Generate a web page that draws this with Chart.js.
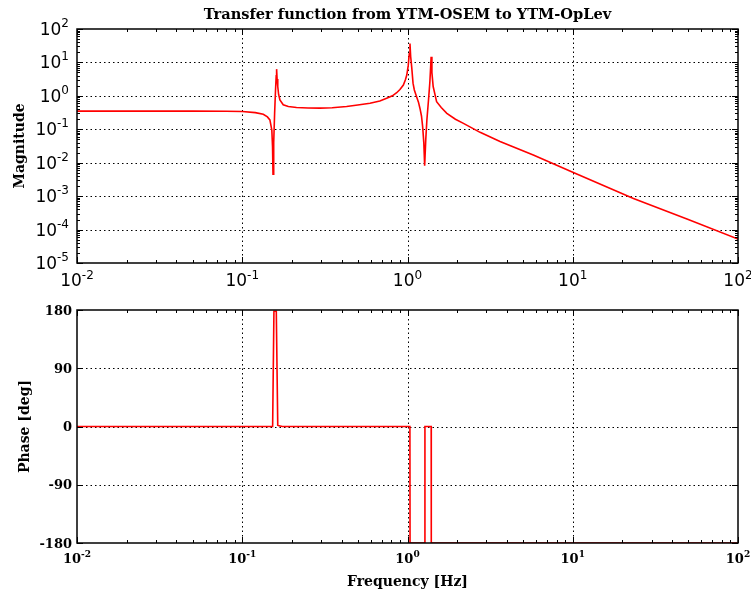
<!DOCTYPE html>
<html><head><meta charset="utf-8">
<script src="https://cdn.jsdelivr.net/npm/chart.js@4"></script>
<style>
html,body{margin:0;padding:0;background:#fff;}
#wrap{position:relative;width:751px;height:595px;overflow:hidden;background:#fff}
canvas{position:absolute;left:0}
</style></head><body>
<div id="wrap">
<canvas id="mag" width="751" height="290" style="top:0;width:751px;height:290px"></canvas>
<canvas id="ph" width="751" height="305" style="top:290px;width:751px;height:305px"></canvas>
</div>
<script>
// ---- texts ----
const titleText = "Transfer function from YTM-OSEM to YTM-OpLev";
const magAxisLabel = "Magnitude";
const phaseAxisLabel = "Phase [deg]";
const freqAxisLabel = "Frequency [Hz]";

// ---- magnitude series ----
const magFreq = [0.01,0.02,0.05,0.08,0.1,0.12,0.134,0.142,0.147,0.151,0.1525,0.1535,0.155,0.157,0.159,0.1605,0.1614,0.1625,0.164,0.166,0.169,0.177,0.19,0.213,0.25,0.295,0.35,0.428,0.5,0.593,0.68,0.748,0.81,0.86,0.9,0.944,0.97,0.99,1.01,1.025,1.035,1.045,1.06,1.08,1.1,1.135,1.165,1.19,1.215,1.235,1.255,1.27,1.29,1.31,1.34,1.365,1.38,1.39,1.405,1.43,1.5,1.6,1.73,1.95,2.18,2.75,3.63,5.77,10,23.3,50,100];
const magValues = [0.35,0.35,0.349,0.347,0.34,0.315,0.28,0.235,0.19,0.095,0.03,0.0045,0.04,0.3,1.5,4,6.3,3.2,1.9,1.1,0.75,0.54,0.48,0.45,0.435,0.43,0.44,0.48,0.53,0.60,0.70,0.85,1.0,1.24,1.55,2.1,3.0,4.2,8,18,37,15,7.4,2.4,1.5,0.94,0.65,0.42,0.25,0.12,0.04,0.0081,0.05,0.19,0.75,2.5,7,14.8,5,1.9,0.67,0.45,0.30,0.2,0.15,0.081,0.043,0.017,0.0052,0.00085,0.0002,0.000052];

// ---- phase series ----
const phaseFreq = [0.01,0.1527,0.1555,0.1607,0.164,0.167,0.175,1.034,1.036,1.273,1.275,1.391,1.393,100];
const phaseValues = [0,0,178,178,2,1,0,0,-180,-180,0,0,-180,-180];

// ---- ticks ----
const freqExponents = [-2,-1,0,1,2];
const magExponents = [2,1,0,-1,-2,-3,-4,-5];
const phaseTicks = [180,90,0,-90,-180];
const minorMultipliers = [2,3,4,5,6,7,8,9];

const RED = '#ff0000';

function minorList(exps){
  const out=[];
  for(let i=0;i<exps.length-1;i++){
    const e=Math.min(exps[i],exps[i+1]);
    minorMultipliers.forEach(m=>out.push(m*Math.pow(10,e)));
  }
  return out;
}

function drawPow(ctx, base, exp, x, y, align, baseFont, expFont, raise){
  ctx.font = baseFont; const wb = ctx.measureText(base).width;
  ctx.font = expFont; const we = ctx.measureText(exp).width;
  let left;
  if(align==='right') left = x - wb - we;
  else left = x - (wb+we)/2;
  ctx.textAlign='left'; ctx.textBaseline='alphabetic';
  ctx.font = baseFont; ctx.fillText(base, left, y);
  ctx.font = expFont; ctx.fillText(exp, left+wb, y-raise);
}

function makeDecor(cfg){
  return {
    id:'decor',
    beforeDatasetsDraw(chart){
      const {ctx, chartArea:a} = chart; const x=chart.scales.x, y=chart.scales.y;
      ctx.save();
      ctx.strokeStyle='#000'; ctx.lineWidth=1; ctx.setLineDash([1.5,3]);
      ctx.beginPath();
      cfg.xMajor.forEach(v=>{const px=Math.round(x.getPixelForValue(v))+0.5; if(px>a.left+2&&px<a.right-2){ctx.moveTo(px,a.top);ctx.lineTo(px,a.bottom);}});
      cfg.yMajor.forEach(v=>{const py=Math.round(y.getPixelForValue(v))+0.5; if(py>a.top+2&&py<a.bottom-2){ctx.moveTo(a.left,py);ctx.lineTo(a.right,py);}});
      ctx.stroke(); ctx.restore();
    },
    afterDatasetsDraw(chart){
      const {ctx, chartArea:a} = chart; const x=chart.scales.x, y=chart.scales.y;
      ctx.save(); ctx.strokeStyle='#000'; ctx.lineWidth=1; ctx.setLineDash([]);
      ctx.beginPath();
      const xt=(v,len)=>{const px=Math.round(x.getPixelForValue(v))+0.5; ctx.moveTo(px,a.bottom);ctx.lineTo(px,a.bottom-len);ctx.moveTo(px,a.top);ctx.lineTo(px,a.top+len);};
      const yt=(v,len)=>{const py=Math.round(y.getPixelForValue(v))+0.5; ctx.moveTo(a.left,py);ctx.lineTo(a.left+len,py);ctx.moveTo(a.right,py);ctx.lineTo(a.right-len,py);};
      cfg.xMajor.forEach(v=>xt(v,6)); cfg.xMinor.forEach(v=>xt(v,3));
      cfg.yMajor.forEach(v=>yt(v,6)); cfg.yMinor.forEach(v=>yt(v,3));
      ctx.stroke();
      ctx.lineWidth=1.5;
      ctx.strokeRect(a.left,a.top,a.right-a.left,a.bottom-a.top);
      ctx.restore();
    },
    afterDraw(chart){
      const {ctx, chartArea:a} = chart; const x=chart.scales.x, y=chart.scales.y;
      ctx.save(); ctx.fillStyle='#000';
      cfg.drawLabels(ctx,a,x,y);
      ctx.restore();
    }
  };
}

const commonScales = (ymin,ymax,ytype)=>({
  x:{type:'logarithmic',min:0.01,max:100,display:true,ticks:{display:false},grid:{display:false},border:{display:false},afterFit:s=>{s.height=0;}},
  y:{type:ytype,min:ymin,max:ymax,display:true,ticks:{display:false},grid:{display:false},border:{display:false},afterFit:s=>{s.width=0;}}
});

const freqMajor = freqExponents.map(e=>Math.pow(10,e));
const freqMinor = minorList(freqExponents);
const magMajor = magExponents.map(e=>Math.pow(10,e));
const magMinor = minorList(magExponents);

const SANS='"DejaVu Sans", sans-serif';
const SERIF='"DejaVu Serif", serif';

new Chart(document.getElementById('mag'),{
  type:'line',
  data:{datasets:[{data:magFreq.map((f,i)=>({x:f,y:magValues[i]})),borderColor:RED,borderWidth:1.6,pointRadius:0,tension:0,fill:false}]},
  options:{
    responsive:false,animation:false,devicePixelRatio:1,
    layout:{padding:{left:77,right:13,top:29,bottom:27}},
    plugins:{legend:{display:false},tooltip:{enabled:false},title:{display:false}},
    scales:commonScales(1e-5,100,'logarithmic')
  },
  plugins:[makeDecor({
    xMajor:freqMajor,xMinor:freqMinor,yMajor:magMajor,yMinor:magMinor,
    drawLabels(ctx,a,x,y){
      magExponents.forEach(e=>{
        const py=y.getPixelForValue(Math.pow(10,e));
        drawPow(ctx,'10',String(e),a.left-8,py+6,'right','17px '+SANS,'12px '+SANS,8);
      });
      freqExponents.forEach(e=>{
        const px=x.getPixelForValue(Math.pow(10,e));
        drawPow(ctx,'10',String(e),px,a.bottom+23,'center','17px '+SANS,'12px '+SANS,7.5);
      });
      ctx.font='bold 14.6px '+SERIF; ctx.textAlign='center'; ctx.textBaseline='alphabetic';
      ctx.fillText(titleText,(a.left+a.right)/2,19);
      ctx.font='bold 14px '+SERIF;
      ctx.save(); ctx.translate(23.5,(a.top+a.bottom)/2); ctx.rotate(-Math.PI/2);
      ctx.fillText(magAxisLabel,0,0); ctx.restore();
    }
  })]
});

new Chart(document.getElementById('ph'),{
  type:'line',
  data:{datasets:[{data:phaseFreq.map((f,i)=>({x:f,y:phaseValues[i]})),borderColor:RED,borderWidth:1.6,pointRadius:0,tension:0,fill:false}]},
  options:{
    responsive:false,animation:false,devicePixelRatio:1,
    layout:{padding:{left:77,right:13,top:20,bottom:52}},
    plugins:{legend:{display:false},tooltip:{enabled:false},title:{display:false}},
    scales:commonScales(-180,180,'linear')
  },
  plugins:[makeDecor({
    xMajor:freqMajor,xMinor:freqMinor,yMajor:phaseTicks,yMinor:[],
    drawLabels(ctx,a,x,y){
      ctx.font='bold 13px '+SERIF; ctx.textAlign='right'; ctx.textBaseline='alphabetic';
      phaseTicks.forEach(v=>{
        const py=y.getPixelForValue(v);
        ctx.fillText(String(v),a.left-5,py+4.7);
      });
      freqExponents.forEach(e=>{
        const px=x.getPixelForValue(Math.pow(10,e));
        drawPow(ctx,'10',String(e),px,a.bottom+20,'center','bold 13px '+SERIF,'bold 9px '+SERIF,6.5);
      });
      ctx.font='bold 14px '+SERIF; ctx.textAlign='center'; ctx.textBaseline='alphabetic';
      ctx.fillText(freqAxisLabel,(a.left+a.right)/2,296);
      ctx.save(); ctx.translate(29,(a.top+a.bottom)/2); ctx.rotate(-Math.PI/2);
      ctx.fillText(phaseAxisLabel,0,0); ctx.restore();
    }
  })]
});
</script>
</body></html>
